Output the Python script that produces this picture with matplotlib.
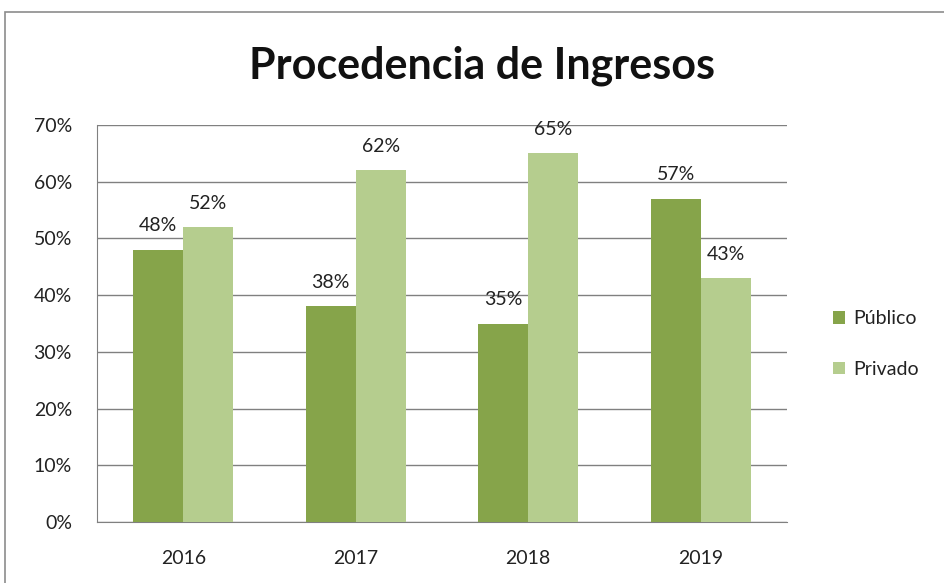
import matplotlib
matplotlib.use("Agg")
import matplotlib.pyplot as plt
import numpy as np
from matplotlib.patches import Rectangle

years = ["2016", "2017", "2018", "2019"]
publico = [48, 38, 35, 57]
privado = [52, 62, 65, 43]
series_names = ["Público", "Privado"]
colors = ["#86A44A", "#B5CD8E"]

plt.rcParams['font.family'] = ['Lato', 'DejaVu Sans']

fig = plt.figure(figsize=(9.45, 5.83), dpi=100)
W, H = 945, 583

# outer chart border
fig.patches.append(Rectangle((5 / W, -0.05), 1.1, 1 - 12 / H + 0.05, transform=fig.transFigure,
                             fill=False, edgecolor="#8c8c8c", linewidth=1.2, clip_on=False))

ax = fig.add_axes([97 / W, 1 - 522 / H, (787 - 97) / W, (522 - 125) / H])

x = np.arange(len(years))
w = 0.29
b1 = ax.bar(x - w / 2, publico, w, color=colors[0], label=series_names[0], zorder=3)
b2 = ax.bar(x + w / 2, privado, w, color=colors[1], label=series_names[1], zorder=3)

for bars, vals in ((b1, publico), (b2, privado)):
    for r, v in zip(bars, vals):
        ax.annotate(f"{v}%", (r.get_x() + r.get_width() / 2, v), xytext=(0, 11),
                    textcoords="offset points", ha="center", va="bottom",
                    fontsize=14, color="#222222", zorder=4)

ax.set_xlim(-0.5, 3.5)
ax.set_ylim(0, 70)
ax.set_yticks(range(0, 71, 10))
ax.set_yticklabels([f"{t}%" for t in range(0, 71, 10)], fontsize=14, color="#222222")
ax.set_xticks(x)
ax.set_xticklabels(years, fontsize=14, color="#222222")
ax.tick_params(axis="y", length=0, pad=18)
ax.tick_params(axis="x", length=0, pad=20)
ax.yaxis.grid(True, color="#808080", linewidth=1, zorder=0)
ax.set_axisbelow(True)
for s in ["top", "right"]:
    ax.spines[s].set_visible(False)
ax.spines["left"].set_color("#808080")
ax.spines["bottom"].set_color("#808080")

fig.text(482 / W, 1 - 66 / H, "Procedencia de Ingresos", ha="center", va="center",
         fontsize=31, fontweight="bold", color="#111111")

leg = fig.legend(handles=[b1, b2], labels=series_names, loc="center left",
                 bbox_to_anchor=(816 / W, 1 - 344 / H), frameon=False, fontsize=14,
                 handlelength=0.6, handleheight=0.6, handletextpad=0.4, labelspacing=1.7)
for t in leg.get_texts():
    t.set_color("#222222")

fig.savefig("out.png", dpi=100)
